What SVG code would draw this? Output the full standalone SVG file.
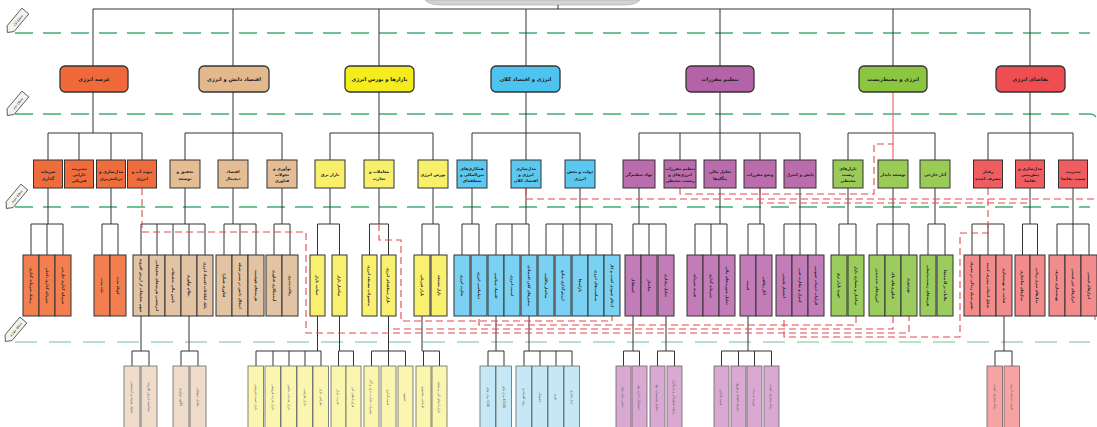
<svg xmlns="http://www.w3.org/2000/svg" width="1097" height="427" viewBox="0 0 1097 427">
<style>
.bg{fill:#ffffff}
.l1{stroke:#333;stroke-width:1.3}
.bx{stroke:#333;stroke-width:1}
.b4{stroke:#666;stroke-width:0.8}
.ln{stroke:#333;stroke-width:1;fill:none}
.rd{stroke:#E5484D;stroke-width:1.1;fill:none;stroke-dasharray:7 4}
.rs{stroke:#E96A6E;stroke-width:1.2;fill:none}
.gd{stroke:#3FAE74;stroke-width:1.4;fill:none;stroke-dasharray:18 10}
.gd2{stroke:#5DBE8C;stroke-width:0.9;fill:none;stroke-dasharray:22 12}
.tag{fill:#f4f4ee;stroke:#444;stroke-width:0.8}
text{font-family:"DejaVu Sans","Noto Sans",sans-serif;text-anchor:middle;fill:#222}
.t1{font-size:5.2px;font-weight:bold}
.t2{font-size:4.1px;font-weight:bold}
.t3{font-size:3.5px;font-weight:bold}
.t4{font-size:3.3px;fill:#555}
.tt{font-size:3.4px;fill:#333}
.o1{fill:#F0693A}.o2{fill:#EF6C3C}.o3{fill:#F37F50}
.n1{fill:#E3B88D}.n2{fill:#E5BD95}.n3{fill:#E2C3A3}.n4{fill:#EFDCCB}
.y1{fill:#F5EC1E}.y2{fill:#F8F06B}.y3{fill:#F9F06F}.y4{fill:#FAF5AF}
.c1{fill:#4DC3EF}.c2{fill:#5CC8F0}.c3{fill:#7BD1F2}.c4{fill:#C6E8F6}
.p1{fill:#B463A8}.p2{fill:#BA6CAD}.p3{fill:#C27DB8}.p4{fill:#D9A9D2}
.g1{fill:#8CC640}.g2{fill:#9BCB57}.g3{fill:#9BCC5D}
.r1{fill:#EE4D52}.r2{fill:#EF5D61}.r3{fill:#F28C8C}.r4{fill:#F5A3A3}
</style>
<defs>
<polygon id="tagshape" points="-15,0 -10,-4.5 13,-4.5 13,4.5 -10,4.5"/>
</defs>
<rect class="bg" x="0" y="0" width="1097" height="427"/>

<!-- level guides -->
<g id="guides">
<path class="gd" d="M15,33H1090"/>
<path class="gd" d="M15,114H1090Q1095,114 1096,118"/>
<path class="gd" d="M15,207H1090"/>
<path class="gd2" d="M15,342H1090"/>
<g transform="translate(17,21) rotate(-50)"><use href="#tagshape" class="tag"/><text class="tt" x="1" y="1.2">سطح اول</text></g>
<g transform="translate(17,104) rotate(-50)"><use href="#tagshape" class="tag"/><text class="tt" x="1" y="1.2">سطح دوم</text></g>
<g transform="translate(16,197) rotate(-50)"><use href="#tagshape" class="tag"/><text class="tt" x="1" y="1.2">سطح سوم</text></g>
<g transform="translate(15,330) rotate(-50)"><use href="#tagshape" class="tag"/><text class="tt" x="1" y="1.2">سطح چهارم</text></g>
</g>

<!-- root (cut off) -->
<g id="root"><path d="M425,0Q429,5 442,5H623Q636,5 640,0Z" fill="#d2d2d2" stroke="#b5b5b5" stroke-width="0.8"/></g>

<!-- connectors -->
<g id="connectors">
<path class="ln" d="M558,5V9M93,66V9H1030V66M233,9V66M379,9V66M526,9V66M720,9V66M893,9V66"/>
<path class="ln" d="M93,92V133M233,92V133M379,92V133M526,92V133M720,92V133M1030,92V133"/>
<path class="ln" d="M48,133H142M185,133H282M330,133H433M472,133H580M639,133H800M848,133H935M988,133H1073"/>
<path class="ln" d="M48,133V160M79,133V160M111,133V160M142,133V160M185,133V160M233,133V160M282,133V160M330,133V160M379,133V160M433,133V160M472,133V160M526,133V160M580,133V160M639,133V160M680,133V160M720,133V160M760,133V160M800,133V160M848,133V160M935,133V160M988,133V160M1030,133V160M1073,133V160"/>
<path class="ln" d="M48,188V224M111,188V224M185,188V224M233,188V224M282,188V224M330,188V224M379,188V224M433,188V224M472,188V224M526,188V224M580,188V224M639,188V224M720,188V224M760,188V224M800,188V224M848,188V224M893,188V224M935,188V224M1030,188V224M1073,188V224"/>
<path class="ln" d="M31,224H63M31,224V255M47,224V255M63,224V255
M102,224H118M102,224V255M118,224V255
M141,224H205M141,224V255M157,224V255M173,224V255M189,224V255M205,224V255
M224,224H256M224,224V255M240,224V255M256,224V255
M274,224H290M274,224V255M290,224V255
M317.5,224H339.5M317.5,224V255M339.5,224V255
M369.5,224H388.5M369.5,224V255M388.5,224V255
M422,224H439M422,224V255M439,224V255
M462,224H479M462,224V255M479,224V255
M496,224H529M496,224V255M512,224V255M529,224V255
M546,224H612M546,224V255M563,224V255M580,224V255M596,224V255M612,224V255
M633,224H666M633,224V255M649,224V255M666,224V255
M695,224H727M695,224V255M711,224V255M727,224V255
M748,224H764M748,224V255M764,224V255
M784,224H816M784,224V255M800,224V255M816,224V255
M839,224H856M839,224V255M856,224V255
M877,224H909M877,224V255M893,224V255M909,224V255
M928,224H945M928,224V255M945,224V255
M972,224H1004M972,224V255M988,224V255M1004,224V255
M1022.5,224H1037.5M1022.5,224V255M1037.5,224V255
M1057,224H1089M1057,224V255M1073,224V255M1089,224V255"/>
<path class="ln" d="M141,316V351M132,351H149M132,351V366M149,351V366
M189,316V351M181,351H198M181,351V366M198,351V366
M317.5,316V351M256,351H321M256,351V366M273,351V366M289,351V366M305,351V366M321,351V366
M339.5,316V351M338.5,351H353.5M338.5,351V366M353.5,351V366
M388.5,316V351M371.5,351H405.5M371.5,351V366M388.5,351V366M405.5,351V366
M422,316V351M422,351H439.5M423.5,351V366M439.5,351V366
M496,316V351M488,351H504M488,351V366M504,351V366
M529,316V351M524,351H572M524,351V366M540,351V366M556,351V366M572,351V366
M633,316V351M623.5,351H639.5M623.5,351V366M639.5,351V366
M666,316V351M657.5,351H674.5M657.5,351V366M674.5,351V366
M748,316V351M721.5,351H771.5M721.5,351V366M738.5,351V366M754.5,351V366M771.5,351V366
M1004,316V351M995,351H1012M995,351V366M1012,351V366"/>
<path class="rs" d="M893,92V160"/>
<path class="rd" d="M142,188V232H306V333H909V316"/>
<path class="rd" d="M379,224V240H401V321H612V316"/>
<path class="rd" d="M526,188V199H1097"/>
<path class="rd" d="M680,188V194H874V144H893"/>
<path class="rd" d="M760,188V203H1030"/>
<path class="rd" d="M988,188V233H960V337H784V316"/>
<path class="rd" d="M856,316V325H479V316"/>
<path class="rd" d="M893,316V329H392"/>
<path class="rs" d="M1095,316V320"/>
</g>

<!-- level 1 -->
<g id="l1-supply"><rect class="l1 o1" x="60" y="66" width="68" height="26" rx="5"/><text class="t1" x="94" y="80.5">عرضه انرژی</text></g>
<g id="l1-knowledge"><rect class="l1 n1" x="199" y="66" width="70" height="26" rx="5"/><text class="t1" x="234" y="80.5">اقتصاد دانش و انرژی</text></g>
<g id="l1-markets"><rect class="l1 y1" x="345" y="66" width="69" height="26" rx="5"/><text class="t1" x="379.5" y="80.5">بازارها و بورس انرژی</text></g>
<g id="l1-macro"><rect class="l1 c1" x="491" y="66" width="69" height="26" rx="5"/><text class="t1" x="525.5" y="80.5">انرژی و اقتصاد کلان</text></g>
<g id="l1-regulation"><rect class="l1 p1" x="686" y="66" width="68" height="26" rx="5"/><text class="t1" x="720" y="80.5">تنظیم مقررات</text></g>
<g id="l1-environment"><rect class="l1 g1" x="859" y="66" width="68" height="26" rx="5"/><text class="t1" x="893" y="80.5">انرژی و محیط‌زیست</text></g>
<g id="l1-demand"><rect class="l1 r1" x="996" y="66" width="69" height="26" rx="5"/><text class="t1" x="1030.5" y="80.5">تقاضای انرژی</text></g>

<!-- level 2 -->
<g id="l2-o1"><rect class="bx o2" x="33.5" y="160" width="29" height="28"/><text class="t2" x="48" y="173">سرمایه</text><text class="t2" x="48" y="179.5">گذاری</text></g>
<g id="l2-o2"><rect class="bx o2" x="64.5" y="160" width="29" height="28"/><text class="t2" x="79" y="169.5">مدیریت</text><text class="t2" x="79" y="175.5">دارایی</text><text class="t2" x="79" y="181.5">فیزیکی</text></g>
<g id="l2-o3"><rect class="bx o2" x="96.5" y="160" width="29" height="28"/><text class="t2" x="111" y="173">مدل‌سازی و</text><text class="t2" x="111" y="179.5">برنامه‌ریزی</text></g>
<g id="l2-o4"><rect class="bx o2" x="127.5" y="160" width="29" height="28"/><text class="t2" x="142" y="173">پیوند آب و</text><text class="t2" x="142" y="179.5">انرژی</text></g>
<g id="l2-n1"><rect class="bx n2" x="170" y="160" width="30" height="28"/><text class="t2" x="185" y="173">تحقیق و</text><text class="t2" x="185" y="179.5">توسعه</text></g>
<g id="l2-n2"><rect class="bx n2" x="218" y="160" width="30" height="28"/><text class="t2" x="233" y="173">اقتصاد</text><text class="t2" x="233" y="179.5">دیجیتال</text></g>
<g id="l2-n3"><rect class="bx n2" x="267" y="160" width="30" height="28"/><text class="t2" x="282" y="169.5">نوآوری و</text><text class="t2" x="282" y="175.5">تحولات</text><text class="t2" x="282" y="181.5">فناوری</text></g>
<g id="l2-y1"><rect class="bx y2" x="315" y="160" width="30" height="28"/><text class="t2" x="330" y="176">بازار برق</text></g>
<g id="l2-y2"><rect class="bx y2" x="364" y="160" width="30" height="28"/><text class="t2" x="379" y="173">معاملات و</text><text class="t2" x="379" y="179.5">تجارت</text></g>
<g id="l2-y3"><rect class="bx y2" x="418" y="160" width="30" height="28"/><text class="t2" x="433" y="176">بورس انرژی</text></g>
<g id="l2-c1"><rect class="bx c2" x="457" y="160" width="30" height="28"/><text class="t2" x="472" y="169.5">همکاری‌های</text><text class="t2" x="472" y="175.5">بین‌المللی و</text><text class="t2" x="472" y="181.5">منطقه‌ای</text></g>
<g id="l2-c2"><rect class="bx c2" x="511" y="160" width="30" height="28"/><text class="t2" x="526" y="169.5">مدل‌سازی</text><text class="t2" x="526" y="175.5">انرژی و</text><text class="t2" x="526" y="181.5">اقتصاد کلان</text></g>
<g id="l2-c3"><rect class="bx c2" x="565" y="160" width="30" height="28"/><text class="t2" x="580" y="173">دولت و بخش</text><text class="t2" x="580" y="179.5">انرژی</text></g>
<g id="l2-p1"><rect class="bx p2" x="623" y="160" width="32" height="28"/><text class="t2" x="639" y="176">نهاد تنظیم‌گر</text></g>
<g id="l2-p2"><rect class="bx p2" x="664" y="160" width="32" height="28"/><text class="t2" x="680" y="169.5">تنظیم مقررات</text><text class="t2" x="680" y="175.5">انرژی‌های و</text><text class="t2" x="680" y="181.5">زیست محیطی</text></g>
<g id="l2-p3"><rect class="bx p2" x="704" y="160" width="32" height="28"/><text class="t2" x="720" y="173">تحلیل مالی</text><text class="t2" x="720" y="179.5">بنگاه‌ها</text></g>
<g id="l2-p4"><rect class="bx p2" x="744" y="160" width="32" height="28"/><text class="t2" x="760" y="176">وضع مقررات</text></g>
<g id="l2-p5"><rect class="bx p2" x="784" y="160" width="32" height="28"/><text class="t2" x="800" y="176">پایش و کنترل</text></g>
<g id="l2-g1"><rect class="bx g2" x="833" y="160" width="30" height="28"/><text class="t2" x="848" y="169.5">بازارهای</text><text class="t2" x="848" y="175.5">زیست</text><text class="t2" x="848" y="181.5">محیطی</text></g>
<g id="l2-g2"><rect class="bx g2" x="878" y="160" width="30" height="28"/><text class="t2" x="893" y="176">توسعه پایدار</text></g>
<g id="l2-g3"><rect class="bx g2" x="920" y="160" width="30" height="28"/><text class="t2" x="935" y="176">آثار خارجی</text></g>
<g id="l2-r1"><rect class="bx r2" x="973.5" y="160" width="29" height="28"/><text class="t2" x="988" y="173">رفتار</text><text class="t2" x="988" y="179.5">مصرف کننده</text></g>
<g id="l2-r2"><rect class="bx r2" x="1015.5" y="160" width="29" height="28"/><text class="t2" x="1030" y="169.5">مدل‌سازی و</text><text class="t2" x="1030" y="175.5">پیش‌بینی</text><text class="t2" x="1030" y="181.5">تقاضا</text></g>
<g id="l2-r3"><rect class="bx r2" x="1058.5" y="160" width="29" height="28"/><text class="t2" x="1073" y="173">مدیریت</text><text class="t2" x="1073" y="179.5">سمت تقاضا</text></g>

<!-- level 3 -->
<g id="l3-o1a"><rect class="bx o3" x="23" y="255" width="16" height="61"/><text class="t3" transform="translate(31,285.5) rotate(90)" y="1.2">ریسک سرمایه گذاری</text></g>
<g id="l3-o1b"><rect class="bx o3" x="39" y="255" width="16" height="61"/><text class="t3" transform="translate(47,285.5) rotate(90)" y="1.2">سرمایه گذاری داخلی</text></g>
<g id="l3-o1c"><rect class="bx o3" x="55" y="255" width="16" height="61"/><text class="t3" transform="translate(63,285.5) rotate(90)" y="1.2">سرمایه گذاری خارجی</text></g>
<g id="l3-o3a"><rect class="bx o3" x="94" y="255" width="16" height="61"/><text class="t3" transform="translate(102,285.5) rotate(90)" y="1.2">بلند مدت</text></g>
<g id="l3-o3b"><rect class="bx o3" x="110" y="255" width="16" height="61"/><text class="t3" transform="translate(118,285.5) rotate(90)" y="1.2">کوتاه مدت</text></g>
<g id="l3-n1a"><rect class="bx n3" x="133" y="255" width="16" height="61"/><text class="t3" transform="translate(141,285.5) rotate(90)" y="1.2">سهم تحقیقات از ارزش افزوده</text></g>
<g id="l3-n1b"><rect class="bx n3" x="149" y="255" width="16" height="61"/><text class="t3" transform="translate(157,285.5) rotate(90)" y="1.2">اثربخشی هزینه‌های تحقیقاتی</text></g>
<g id="l3-n1c"><rect class="bx n3" x="165" y="255" width="16" height="61"/><text class="t3" transform="translate(173,285.5) rotate(90)" y="1.2">تامین مالی تحقیقات</text></g>
<g id="l3-n1d"><rect class="bx n3" x="181" y="255" width="16" height="61"/><text class="t3" transform="translate(189,285.5) rotate(90)" y="1.2">نظام نوآوری</text></g>
<g id="l3-n1e"><rect class="bx n3" x="197" y="255" width="16" height="61"/><text class="t3" transform="translate(205,285.5) rotate(90)" y="1.2">بانک اطلاعات اقتصاد انرژی</text></g>
<g id="l3-n2a"><rect class="bx n3" x="216" y="255" width="16" height="61"/><text class="t3" transform="translate(224,285.5) rotate(90)" y="1.2">فناوری همگرا</text></g>
<g id="l3-n2b"><rect class="bx n3" x="232" y="255" width="16" height="61"/><text class="t3" transform="translate(240,285.5) rotate(90)" y="1.2">انتقال دانش در بستر شبکه</text></g>
<g id="l3-n2c"><rect class="bx n3" x="248" y="255" width="16" height="61"/><text class="t3" transform="translate(256,285.5) rotate(90)" y="1.2">هزینه‌های هوشمند</text></g>
<g id="l3-n3a"><rect class="bx n3" x="266" y="255" width="16" height="61"/><text class="t3" transform="translate(274,285.5) rotate(90)" y="1.2">آینده‌نگاری فناوری</text></g>
<g id="l3-n3b"><rect class="bx n3" x="282" y="255" width="16" height="61"/><text class="t3" transform="translate(290,285.5) rotate(90)" y="1.2">رقابت‌پذیری</text></g>
<g id="l3-y1a"><rect class="bx y3" x="310" y="255" width="15" height="61"/><text class="t3" transform="translate(317.5,285.5) rotate(90)" y="1.2">حمایت بازار</text></g>
<g id="l3-y1b"><rect class="bx y3" x="332" y="255" width="15" height="61"/><text class="t3" transform="translate(339.5,285.5) rotate(90)" y="1.2">ساختار بازار</text></g>
<g id="l3-y2a"><rect class="bx y3" x="362" y="255" width="15" height="61"/><text class="t3" transform="translate(369.5,285.5) rotate(90)" y="1.2">محصولات مشتقه انرژی</text></g>
<g id="l3-y2b"><rect class="bx y3" x="381" y="255" width="15" height="61"/><text class="t3" transform="translate(388.5,285.5) rotate(90)" y="1.2">بازار منطقه‌ای انرژی</text></g>
<g id="l3-y3a"><rect class="bx y3" x="414" y="255" width="16" height="61"/><text class="t3" transform="translate(422,285.5) rotate(90)" y="1.2">بازار فیزیکی</text></g>
<g id="l3-y3b"><rect class="bx y3" x="431" y="255" width="16" height="61"/><text class="t3" transform="translate(439,285.5) rotate(90)" y="1.2">بازار مشتقه</text></g>
<g id="l3-c1a"><rect class="bx c3" x="454" y="255" width="16" height="61"/><text class="t3" transform="translate(462,285.5) rotate(90)" y="1.2">تجارت انرژی</text></g>
<g id="l3-c1b"><rect class="bx c3" x="471" y="255" width="16" height="61"/><text class="t3" transform="translate(479,285.5) rotate(90)" y="1.2">دیپلماسی انرژی</text></g>
<g id="l3-c2a"><rect class="bx c3" x="488" y="255" width="16" height="61"/><text class="t3" transform="translate(496,285.5) rotate(90)" y="1.2">اقتصاد سیاسی</text></g>
<g id="l3-c2b"><rect class="bx c3" x="504" y="255" width="16" height="61"/><text class="t3" transform="translate(512,285.5) rotate(90)" y="1.2">امنیت انرژی</text></g>
<g id="l3-c2c"><rect class="bx c3" x="521" y="255" width="16" height="61"/><text class="t3" transform="translate(529,285.5) rotate(90)" y="1.2">متغیرهای کلان اقتصادی</text></g>
<g id="l3-c3a"><rect class="bx c3" x="538" y="255" width="16" height="61"/><text class="t3" transform="translate(546,285.5) rotate(90)" y="1.2">ساختار مالکیت</text></g>
<g id="l3-c3b"><rect class="bx c3" x="555" y="255" width="16" height="61"/><text class="t3" transform="translate(563,285.5) rotate(90)" y="1.2">ارزش‌گذاری منابع</text></g>
<g id="l3-c3c"><rect class="bx c3" x="572" y="255" width="16" height="61"/><text class="t3" transform="translate(580,285.5) rotate(90)" y="1.2">یارانه‌ها</text></g>
<g id="l3-c3d"><rect class="bx c3" x="588" y="255" width="16" height="61"/><text class="t3" transform="translate(596,285.5) rotate(90)" y="1.2">سیاست‌های انرژی</text></g>
<g id="l3-c3e"><rect class="bx c3" x="604" y="255" width="16" height="61"/><text class="t3" transform="translate(612,285.5) rotate(90)" y="1.2">ادغام عمودی کسب و کار</text></g>
<g id="l3-p1a"><rect class="bx p3" x="625" y="255" width="16" height="61"/><text class="t3" transform="translate(633,285.5) rotate(90)" y="1.2">استقلال</text></g>
<g id="l3-p1b"><rect class="bx p3" x="641" y="255" width="16" height="61"/><text class="t3" transform="translate(649,285.5) rotate(90)" y="1.2">ساختار</text></g>
<g id="l3-p1c"><rect class="bx p3" x="658" y="255" width="16" height="61"/><text class="t3" transform="translate(666,285.5) rotate(90)" y="1.2">تحلیل رفتاری</text></g>
<g id="l3-p3a"><rect class="bx p3" x="687" y="255" width="16" height="61"/><text class="t3" transform="translate(695,285.5) rotate(90)" y="1.2">هزینه سرمایه</text></g>
<g id="l3-p3b"><rect class="bx p3" x="703" y="255" width="16" height="61"/><text class="t3" transform="translate(711,285.5) rotate(90)" y="1.2">سرمایه گذاری</text></g>
<g id="l3-p3c"><rect class="bx p3" x="719" y="255" width="16" height="61"/><text class="t3" transform="translate(727,285.5) rotate(90)" y="1.2">تحلیل صورت‌های مالی</text></g>
<g id="l3-p4a"><rect class="bx p3" x="740" y="255" width="16" height="61"/><text class="t3" transform="translate(748,285.5) rotate(90)" y="1.2">قیمت</text></g>
<g id="l3-p4b"><rect class="bx p3" x="756" y="255" width="16" height="61"/><text class="t3" transform="translate(764,285.5) rotate(90)" y="1.2">آثار رفاهی</text></g>
<g id="l3-p5a"><rect class="bx p3" x="776" y="255" width="16" height="61"/><text class="t3" transform="translate(784,285.5) rotate(90)" y="1.2">انحصار طبیعی</text></g>
<g id="l3-p5b"><rect class="bx p3" x="792" y="255" width="16" height="61"/><text class="t3" transform="translate(800,285.5) rotate(90)" y="1.2">کنترل و نظارت فنی</text></g>
<g id="l3-p5c"><rect class="bx p3" x="808" y="255" width="16" height="61"/><text class="t3" transform="translate(816,285.5) rotate(90)" y="1.2">الزامات خدمات عمومی</text></g>
<g id="l3-g1a"><rect class="bx g3" x="831" y="255" width="16" height="61"/><text class="t3" transform="translate(839,285.5) rotate(90)" y="1.2">حوزه بازار برق</text></g>
<g id="l3-g1b"><rect class="bx g3" x="848" y="255" width="16" height="61"/><text class="t3" transform="translate(856,285.5) rotate(90)" y="1.2">ساختار و معماری بازار</text></g>
<g id="l3-g2a"><rect class="bx g3" x="869" y="255" width="16" height="61"/><text class="t3" transform="translate(877,285.5) rotate(90)" y="1.2">انرژی‌های تجدیدپذیر</text></g>
<g id="l3-g2b"><rect class="bx g3" x="885" y="255" width="16" height="61"/><text class="t3" transform="translate(893,285.5) rotate(90)" y="1.2">فناوری‌های پاک</text></g>
<g id="l3-g2c"><rect class="bx g3" x="901" y="255" width="16" height="61"/><text class="t3" transform="translate(909,285.5) rotate(90)" y="1.2">بهره‌وری</text></g>
<g id="l3-g3a"><rect class="bx g3" x="920" y="255" width="16" height="61"/><text class="t3" transform="translate(928,285.5) rotate(90)" y="1.2">هزینه‌های زیست‌محیطی</text></g>
<g id="l3-g3b"><rect class="bx g3" x="937" y="255" width="16" height="61"/><text class="t3" transform="translate(945,285.5) rotate(90)" y="1.2">مالیات بر آلاینده‌ها</text></g>
<g id="l3-r1a"><rect class="bx r3" x="964" y="255" width="16" height="61"/><text class="t3" transform="translate(972,285.5) rotate(90)" y="1.2">نقش سبک زندگی در مصرف</text></g>
<g id="l3-r1b"><rect class="bx r3" x="980" y="255" width="16" height="61"/><text class="t3" transform="translate(988,285.5) rotate(90)" y="1.2">تحلیل انتخاب مصرف کننده</text></g>
<g id="l3-r1c"><rect class="bx r3" x="996" y="255" width="16" height="61"/><text class="t3" transform="translate(1004,285.5) rotate(90)" y="1.2">هدایت به بهینه‌سازی</text></g>
<g id="l3-r2a"><rect class="bx r3" x="1015" y="255" width="15" height="61"/><text class="t3" transform="translate(1022.5,285.5) rotate(90)" y="1.2">مدل‌های ساختاری</text></g>
<g id="l3-r2b"><rect class="bx r3" x="1030" y="255" width="15" height="61"/><text class="t3" transform="translate(1037.5,285.5) rotate(90)" y="1.2">مدل‌های سری زمانی</text></g>
<g id="l3-r3a"><rect class="bx r3" x="1049" y="255" width="16" height="61"/><text class="t3" transform="translate(1057,285.5) rotate(90)" y="1.2">بهینه‌سازی مصرف</text></g>
<g id="l3-r3b"><rect class="bx r3" x="1065" y="255" width="16" height="61"/><text class="t3" transform="translate(1073,285.5) rotate(90)" y="1.2">ابزارهای غیر قیمتی</text></g>
<g id="l3-r3c"><rect class="bx r3" x="1081" y="255" width="16" height="61"/><text class="t3" transform="translate(1089,285.5) rotate(90)" y="1.2">ابزارهای قیمتی</text></g>

<!-- level 4 -->
<g id="l4-n1a"><rect class="b4 n4" x="124" y="366" width="16" height="66"/><text class="t4" transform="translate(132,397) rotate(90)" y="1.1">تحلیل هزینه و اثربخشی</text></g>
<g id="l4-n1b"><rect class="b4 n4" x="141" y="366" width="16" height="66"/><text class="t4" transform="translate(149,397) rotate(90)" y="1.1">محاسبه ارزش افزوده</text></g>
<g id="l4-n2a"><rect class="b4 n4" x="173" y="366" width="16" height="66"/><text class="t4" transform="translate(181,397) rotate(90)" y="1.1">الگوی نوآوری</text></g>
<g id="l4-n2b"><rect class="b4 n4" x="190" y="366" width="16" height="66"/><text class="t4" transform="translate(198,397) rotate(90)" y="1.1">تعامل ذینفعان</text></g>
<g id="l4-y1a"><rect class="b4 y4" x="248" y="366" width="15.5" height="66"/><text class="t4" transform="translate(256,397) rotate(90)" y="1.1">بازار عمده فروشی</text></g>
<g id="l4-y1b"><rect class="b4 y4" x="265" y="366" width="15.5" height="66"/><text class="t4" transform="translate(273,397) rotate(90)" y="1.1">بازار خرده فروشی</text></g>
<g id="l4-y1c"><rect class="b4 y4" x="281" y="366" width="15.5" height="66"/><text class="t4" transform="translate(289,397) rotate(90)" y="1.1">بازار خدمات جانبی</text></g>
<g id="l4-y1d"><rect class="b4 y4" x="297" y="366" width="15.5" height="66"/><text class="t4" transform="translate(305,397) rotate(90)" y="1.1">بازار ظرفیت</text></g>
<g id="l4-y1e"><rect class="b4 y4" x="313" y="366" width="15.5" height="66"/><text class="t4" transform="translate(321,397) rotate(90)" y="1.1">طراحی بازار</text></g>
<g id="l4-y2a"><rect class="b4 y4" x="331" y="366" width="15" height="66"/><text class="t4" transform="translate(338.5,397) rotate(90)" y="1.1">قدرت بازار</text></g>
<g id="l4-y2b"><rect class="b4 y4" x="346" y="366" width="15" height="66"/><text class="t4" transform="translate(353.5,397) rotate(90)" y="1.1">قراردادهای آتی</text></g>
<g id="l4-y3a"><rect class="b4 y4" x="364" y="366" width="15" height="66"/><text class="t4" transform="translate(371.5,397) rotate(90)" y="1.1">مقررات تجارت برق و گاز</text></g>
<g id="l4-y3b"><rect class="b4 y4" x="381" y="366" width="15" height="66"/><text class="t4" transform="translate(388.5,397) rotate(90)" y="1.1">قیمت‌گذاری</text></g>
<g id="l4-y3c"><rect class="b4 y4" x="398" y="366" width="15" height="66"/><text class="t4" transform="translate(405.5,397) rotate(90)" y="1.1">تسویه</text></g>
<g id="l4-y4a"><rect class="b4 y4" x="416" y="366" width="15" height="66"/><text class="t4" transform="translate(423.5,397) rotate(90)" y="1.1">طراحی محصول</text></g>
<g id="l4-y4b"><rect class="b4 y4" x="432" y="366" width="15" height="66"/><text class="t4" transform="translate(439.5,397) rotate(90)" y="1.1">قراردادهای آتی و سلف</text></g>
<g id="l4-c1a"><rect class="b4 c4" x="480" y="366" width="15.5" height="66"/><text class="t4" transform="translate(488,397) rotate(90)" y="1.1">مدل های CGE</text></g>
<g id="l4-c1b"><rect class="b4 c4" x="496" y="366" width="15.5" height="66"/><text class="t4" transform="translate(504,397) rotate(90)" y="1.1">مدل های DSGE</text></g>
<g id="l4-c2a"><rect class="b4 c4" x="516" y="366" width="15.5" height="66"/><text class="t4" transform="translate(524,397) rotate(90)" y="1.1">رشد اقتصادی</text></g>
<g id="l4-c2b"><rect class="b4 c4" x="532" y="366" width="15.5" height="66"/><text class="t4" transform="translate(540,397) rotate(90)" y="1.1">اشتغال</text></g>
<g id="l4-c2c"><rect class="b4 c4" x="548" y="366" width="15.5" height="66"/><text class="t4" transform="translate(556,397) rotate(90)" y="1.1">تورم</text></g>
<g id="l4-c2d"><rect class="b4 c4" x="564" y="366" width="15.5" height="66"/><text class="t4" transform="translate(572,397) rotate(90)" y="1.1">تراز تجاری</text></g>
<g id="l4-p1a"><rect class="b4 p4" x="616" y="366" width="15" height="66"/><text class="t4" transform="translate(623.5,397) rotate(90)" y="1.1">تامین مالی نهاد</text></g>
<g id="l4-p1b"><rect class="b4 p4" x="632" y="366" width="15" height="66"/><text class="t4" transform="translate(639.5,397) rotate(90)" y="1.1">استقلال اداری نهاد</text></g>
<g id="l4-p2a"><rect class="b4 p4" x="650" y="366" width="15" height="66"/><text class="t4" transform="translate(657.5,397) rotate(90)" y="1.1">تحلیل تصمیمات نهاد</text></g>
<g id="l4-p2b"><rect class="b4 p4" x="667" y="366" width="15" height="66"/><text class="t4" transform="translate(674.5,397) rotate(90)" y="1.1">رابطه تنظیم‌گر و بازیگران</text></g>
<g id="l4-p3a"><rect class="b4 p4" x="714" y="366" width="15" height="66"/><text class="t4" transform="translate(721.5,397) rotate(90)" y="1.1">قیمت‌گذاری</text></g>
<g id="l4-p3b"><rect class="b4 p4" x="731" y="366" width="15" height="66"/><text class="t4" transform="translate(738.5,397) rotate(90)" y="1.1">تعرفه انتقال و توزیع</text></g>
<g id="l4-p3c"><rect class="b4 p4" x="747" y="366" width="15" height="66"/><text class="t4" transform="translate(754.5,397) rotate(90)" y="1.1">هزینه خدمات</text></g>
<g id="l4-p3d"><rect class="b4 p4" x="764" y="366" width="15" height="66"/><text class="t4" transform="translate(771.5,397) rotate(90)" y="1.1">رفاه مصرف کننده</text></g>
<g id="l4-r1a"><rect class="b4 r4" x="987" y="366" width="15.5" height="66"/><text class="t4" transform="translate(995,397) rotate(90)" y="1.1">رفاه مصرف کننده</text></g>
<g id="l4-r1b"><rect class="b4 r4" x="1004" y="366" width="15.5" height="66"/><text class="t4" transform="translate(1012,397) rotate(90)" y="1.1">امنیت عرضه انرژی</text></g>
</svg>
